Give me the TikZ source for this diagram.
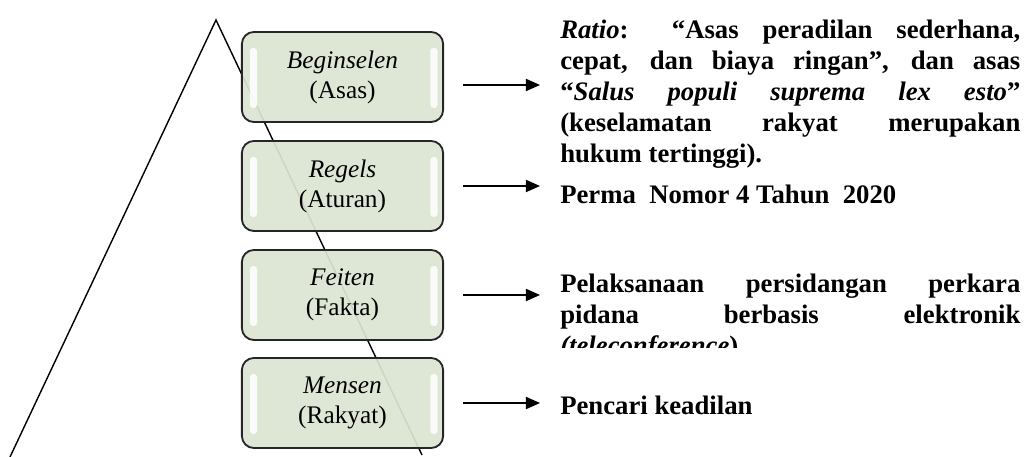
\documentclass[tikz,border=0pt]{standalone}
\usepackage{fontspec}
\setmainfont{Liberation Serif}
\usetikzlibrary{arrows.meta}

\begin{document}
\begin{tikzpicture}[x=0.025cm, y=-0.025cm,
	levelbox/.style={draw=black!85, line width=1.3pt, fill=boxgreen, fill opacity=0.93, text opacity=1,
		rounded corners=0.3cm, minimum width=5.03cm, minimum height=2.25cm, align=center,
		font=\fontsize{18}{21.3}\selectfont,
		path picture={
			\fill[white, opacity=0.85, rounded corners=0.08cm] ([xshift=0.2cm,yshift=-0.4cm]path picture bounding box.north west) rectangle ([xshift=0.38cm,yshift=0.35cm]path picture bounding box.south west);
			\fill[white, opacity=0.85, rounded corners=0.08cm] ([xshift=-0.32cm,yshift=-0.4cm]path picture bounding box.north east) rectangle ([xshift=-0.14cm,yshift=0.35cm]path picture bounding box.south east);}},
	desc/.style={anchor=base west, inner sep=0pt, text width=11.5cm, align=justify,
		font=\fontsize{19}{22}\selectfont\bfseries},
	pointer/.style={-{Triangle[length=0.35cm,width=0.3cm]}, line width=1.2pt, shorten <=0.48cm, shorten >=0.5cm}]
	\definecolor{boxgreen}{HTML}{DCE4D2}
	\useasboundingbox (0,0) rectangle (1026,457);
	
	% pyramid
	\draw[line width=1pt] (10,457) -- (216,20) -- (422,455);
	
	% levels
	\node[levelbox] (asas) at (342.5,77) {\textit{Beginselen}\\(Asas)};
	\node[levelbox] (aturan) at (342.5,186) {\textit{Regels}\\(Aturan)};
	\node[levelbox] (fakta) at (342.5,295) {\textit{Feiten}\\(Fakta)};
	\node[levelbox] (rakyat) at (342.5,403) {\textit{Mensen}\\(Rakyat)};
	
	% descriptions
	\node[desc] (ratio) at (560,39) {\textit{Ratio}: “Asas peradilan sederhana,\linebreak
		cepat, dan biaya ringan”, dan asas\linebreak
		“\textit{Salus populi suprema lex esto}”\linebreak
		(keselamatan rakyat merupakan\linebreak
		hukum tertinggi).};
	\node[desc] (perma) at (560,204) {Perma\ \ Nomor 4 Tahun\ \ 2020};
	\begin{scope}
		\clip (540,250) rectangle (1026,348);
		\node[desc] (pelaksanaan) at (560,293) {Pelaksanaan persidangan perkara\linebreak
			pidana berbasis elektronik\linebreak
			\textit{(teleconference})};
	\end{scope}
	\node[desc] (pencari) at (560,415) {Pencari keadilan};
	
	% arrows
	\draw[pointer] ([yshift=-0.2cm]asas.east) -- ([yshift=-0.2cm]asas.east -| ratio.west);
	\draw[pointer] (aturan.east) -- (aturan.east -| perma.west);
	\draw[pointer] (fakta.east) -- (fakta.east -| pelaksanaan.west);
	\draw[pointer] (rakyat.east) -- (rakyat.east -| pencari.west);
\end{tikzpicture}
\end{document}
